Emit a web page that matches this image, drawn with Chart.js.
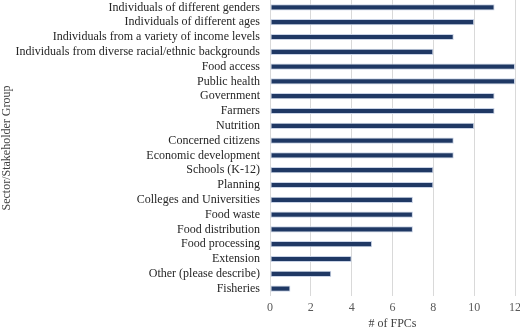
<!DOCTYPE html>
<html>
<head>
<meta charset="utf-8">
<script src="https://cdn.jsdelivr.net/npm/chart.js@4/dist/chart.umd.min.js"></script>
<style>
    html, body { margin: 0; padding: 0; background: #fff; }
    #wrap { width: 520px; height: 328px; }
</style>
</head>
<body>
<div id="wrap"><canvas id="fpcChart"></canvas></div>
<script>

const groups = [
    'Individuals of different genders',
    'Individuals of different ages',
    'Individuals from a variety of income levels',
    'Individuals from diverse racial/ethnic backgrounds',
    'Food access',
    'Public health',
    'Government',
    'Farmers',
    'Nutrition',
    'Concerned citizens',
    'Economic development',
    'Schools (K-12)',
    'Planning',
    'Colleges and Universities',
    'Food waste',
    'Food distribution',
    'Food processing',
    'Extension',
    'Other (please describe)',
    'Fisheries'
];

const fpcCounts = [11, 10, 9, 8, 12, 12, 11, 11, 10, 9, 9, 8, 8, 7, 7, 7, 5, 4, 3, 1];

const xTicks = [0, 2, 4, 6, 8, 10, 12];


function initializeChart() {

    const ctx = document.getElementById('fpcChart').getContext('2d');

    Chart.defaults.font.family = '"Liberation Serif", "Times New Roman", serif';
    Chart.defaults.color = '#404040';

    new Chart(ctx, {

        type: 'bar',
        data: {

            labels: groups,
            datasets: [{

                label: '# of FPCs',
                data: fpcCounts,
                backgroundColor: '#1f3864',
                borderColor: '#c9d3e6',
                borderWidth: 1,
                borderSkipped: false,
                categoryPercentage: 1,
                barPercentage: 0.42
            }]
        },
        options: {

            indexAxis: 'y',
            responsive: true,
            maintainAspectRatio: false,
            animation: false,
            layout: { padding: { top: 0, right: 5, bottom: 0, left: 0 } },
            plugins: {
                legend: { display: false },
                tooltip: { enabled: false }
            },
            scales: {

                x: {
                    min: 0,
                    max: 12,
                    afterBuildTicks: axis => { axis.ticks = xTicks.map(v => ({ value: v })); },
                    afterFit: axis => { axis.height = 32; axis.paddingLeft = 0; axis.paddingRight = 0; },
                    grid: { color: '#d9d9d9', drawTicks: false },
                    border: { display: false },
                    ticks: { font: { size: 12 }, color: '#595959', padding: 5 },
                    title: { display: true, text: '# of FPCs', font: { size: 12 }, color: '#404040', padding: { top: 4, bottom: -3 } }
                },
                y: {
                    afterFit: axis => { axis.width = 270; axis.paddingTop = 0; axis.paddingBottom = 0; },
                    grid: { display: false, drawTicks: false },
                    border: { display: false },
                    ticks: { font: { size: 12 }, color: '#262626', padding: 10, autoSkip: false },
                    title: { display: true, text: 'Sector/Stakeholder Group', font: { size: 12 }, color: '#404040', padding: { top: 0, bottom: 0 } }
                }
            }
        }
    });
}


window.onload = function () {

    initializeChart();
};

</script>
</body>
</html>
